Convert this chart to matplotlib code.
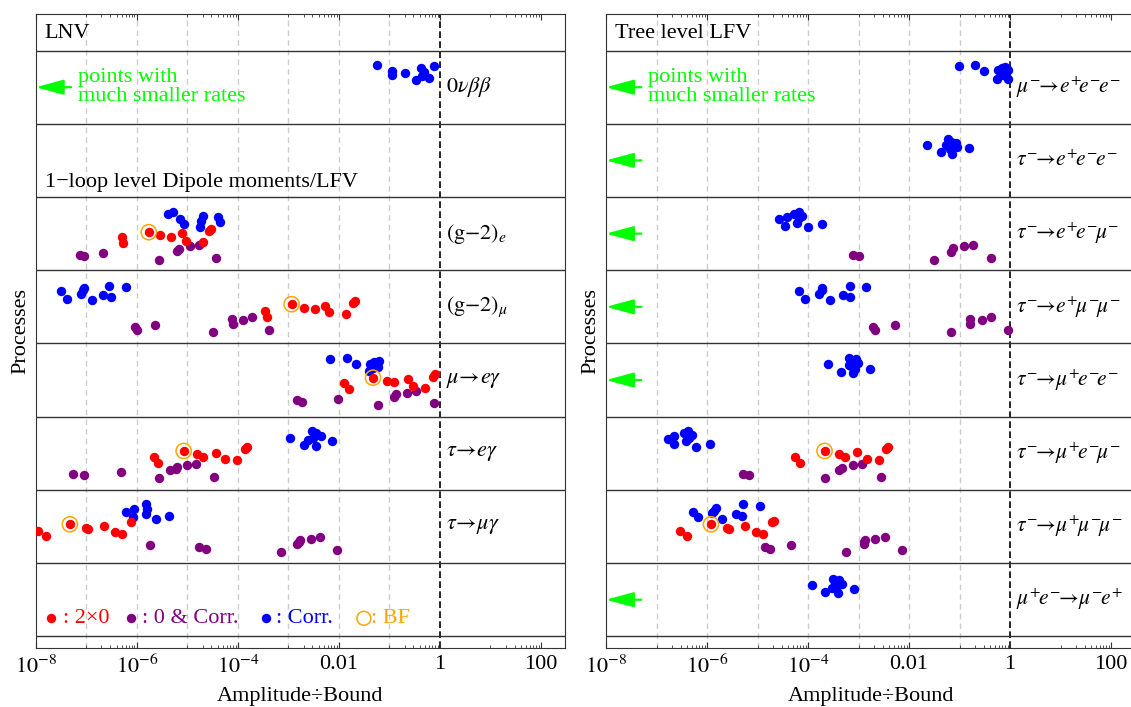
import numpy as np
import matplotlib.pyplot as plt
from matplotlib.ticker import FixedLocator, FixedFormatter, NullFormatter

plt.rcParams['font.family'] = ['Liberation Serif', 'DejaVu Serif']
plt.rcParams['mathtext.fontset'] = 'stix'

RED = '#ff0000'
PURPLE = '#800080'
BLUE = '#0000ff'
ORANGE = '#ffa500'
GREEN = '#00ff00'

# log10(amplitude/bound) and position inside the row (0..1)
# ---- left panel: LNV and 1-loop ----
nbb_blue_x = [-1.25, -0.957, -0.942, -0.698, -0.482, -0.374, -0.317, -0.36, -0.209, -0.115]
nbb_blue_y = [.80, .72, .67, .69, .60, .76, .71, .65, .62, .79]

g2e_blue_x = [-5.388, -5.288, -5.151, -5.065, -4.755, -4.734, -4.691, -4.388, -4.353]
g2e_blue_y = [.765, .796, .701, .629, .597, .674, .742, .729, .656]
g2e_red_x = [-6.295, -6.266, -5.763, -5.532, -5.331, -5.108, -5.029, -4.698, -4.576, -4.532]
g2e_red_y = [.448, .367, .520, .475, .448, .502, .403, .380, .538, .561]
g2e_purple_x = [-7.122, -7.050, -6.669, -5.561, -5.201, -5.165, -4.950, -4.770, -4.432]
g2e_purple_y = [.213, .195, .240, .140, .258, .294, .330, .344, .167]

g2mu_blue_x = [-7.496, -7.388, -7.108, -7.065, -7.036, -6.892, -6.669, -6.547, -6.511, -6.223]
g2mu_blue_y = [.714, .614, .682, .727, .764, .600, .668, .791, .636, .777]
g2mu_red_x = [-3.453, -3.424, -2.935, -2.691, -2.475, -2.273, -2.201, -1.856, -1.727, -1.683]
g2mu_red_y = [.445, .364, .536, .491, .468, .514, .423, .400, .559, .582]
g2mu_purple_x = [-6.036, -5.993, -5.647, -4.496, -4.108, -4.101, -3.899, -3.719, -3.381]
g2mu_purple_y = [.223, .186, .250, .150, .332, .259, .323, .359, .177]

mueg_blue_x = [-2.173, -1.835, -1.655, -1.381, -1.295, -1.201, -1.403, -1.331, -1.223]
mueg_blue_y = [.782, .800, .714, .718, .741, .764, .627, .659, .682]
mueg_red_x = [-1.906, -1.799, -1.324, -1.043, -0.899, -0.633, -0.525, -0.288, -0.144, -0.094]
mueg_red_y = [.455, .373, .532, .486, .468, .514, .423, .395, .545, .577]
mueg_purple_x = [-2.820, -2.734, -2.014, -1.230, -0.899, -0.863, -0.647, -0.468, -0.122]
mueg_purple_y = [.227, .195, .236, .155, .264, .305, .327, .355, .182]

taueg_blue_x = [-2.971, -2.698, -2.540, -2.446, -2.360, -2.518, -2.446, -2.144, -2.604]
taueg_blue_y = [.705, .618, .809, .782, .736, .705, .600, .668, .682]
taueg_red_x = [-5.662, -5.576, -5.072, -4.799, -4.691, -4.424, -4.245, -4.014, -3.849, -3.827]
taueg_red_y = [.445, .373, .532, .491, .455, .509, .423, .409, .559, .591]
taueg_purple_x = [-7.266, -7.043, -6.317, -5.554, -5.345, -5.230, -5.201, -5.007, -4.820, -4.475]
taueg_purple_y = [.214, .200, .241, .164, .273, .291, .309, .336, .350, .173]

taumug_blue_x = [-6.209, -6.058, -6.072, -5.813, -5.791, -5.813, -5.626, -5.353]
taumug_blue_y = [.703, .735, .626, .804, .740, .667, .598, .644]
taumug_red_x = [-7.950, -7.791, -7.324, -7.000, -6.964, -6.647, -6.424, -6.295, -6.115]
taumug_red_y = [.438, .374, .530, .484, .461, .502, .420, .393, .557]
taumug_purple_x = [-5.748, -4.763, -4.633, -3.151, -2.820, -2.791, -2.763, -2.554, -2.374, -2.029]
taumug_purple_y = [.242, .219, .196, .151, .256, .288, .315, .324, .352, .174]

# ---- right panel: tree level LFV ----
mueee_blue_x = [-1.007, -0.702, -0.511, -0.241, -0.170, -0.099, -0.262, -0.135, -0.05, -0.05]
mueee_blue_y = [.785, .804, .717, .735, .758, .781, .616, .667, .607, .735]

taueee_blue_x = [-1.645, -1.376, -1.234, -1.163, -1.071, -1.270, -1.142, -1.057, -0.823, -1.199]
taueee_blue_y = [.714, .614, .795, .750, .736, .705, .582, .682, .664, .659]

taueemu_blue_x = [-4.582, -4.426, -4.454, -4.284, -4.177, -4.121, -4.213, -4.0, -3.730, -4.177]
taueemu_blue_y = [.697, .733, .611, .765, .801, .742, .652, .584, .629, .719]
taueemu_purple_x = [-3.113, -3.0, -1.511, -1.177, -1.128, -0.915, -0.730, -0.383]
taueemu_purple_y = [.213, .195, .140, .253, .303, .326, .344, .167]

tauemumu_blue_x = [-4.177, -4.057, -3.787, -3.730, -3.716, -3.567, -3.312, -3.170, -3.177, -2.858]
tauemumu_blue_y = [.714, .614, .682, .727, .764, .600, .668, .791, .636, .777]
tauemumu_purple_x = [-2.723, -2.674, -2.284, -1.170, -0.794, -0.787, -0.560, -0.383, -0.050]
tauemumu_purple_y = [.223, .186, .250, .150, .332, .259, .323, .359, .177]

taumuee_blue_x = [-3.610, -3.348, -3.184, -3.043, -3.149, -3.021, -3.113, -3.064, -2.780, -3.199]
taumuee_blue_y = [.714, .614, .795, .782, .691, .727, .591, .645, .655, .705]

taumuemu_blue_x = [-6.766, -6.645, -6.660, -6.461, -6.376, -6.305, -6.411, -6.213, -5.943, -6.355]
taumuemu_blue_y = [.700, .741, .623, .773, .805, .750, .668, .591, .632, .705]
taumuemu_red_x = [-4.262, -4.163, -3.674, -3.397, -3.270, -3.028, -2.830, -2.603, -2.454, -2.426]
taumuemu_red_y = [.445, .373, .532, .486, .455, .514, .418, .409, .559, .591]
taumuemu_purple_x = [-5.291, -5.170, -3.674, -3.383, -3.326, -3.106, -2.929, -2.560]
taumuemu_purple_y = [.214, .200, .164, .268, .305, .336, .350, .173]

taumumumu_blue_x = [-6.277, -6.184, -5.894, -5.858, -5.830, -5.702, -5.433, -5.298, -5.291, -4.950]
taumumumu_blue_y = [.703, .635, .680, .717, .749, .598, .667, .644, .804, .781]
taumumumu_red_x = [-6.539, -6.397, -5.922, -5.596, -5.567, -5.248, -5.028, -4.887, -4.709, -4.674]
taumumumu_red_y = [.438, .374, .530, .484, .461, .502, .420, .393, .557, .575]
taumumumu_purple_x = [-4.844, -4.759, -4.333, -3.255, -2.901, -2.887, -2.865, -2.667, -2.475, -2.135]
taumumumu_purple_y = [.219, .196, .242, .151, .256, .288, .315, .324, .352, .174]

muconv_blue_x = [-3.915, -3.660, -3.504, -3.383, -3.326, -3.433, -3.411, -3.518, -3.092, -3.468]
muconv_blue_y = [.705, .605, .786, .764, .718, .682, .591, .664, .650, .741]

BF_INDEX = 2  # best fit point inside each red list

left_labels = [r'$0\nu\beta\beta$', '', r'$\mathrm{(g{-}2)}_{e}$', r'$\mathrm{(g{-}2)}_{\mu}$',
               r'$\mu\!\rightarrow\! e\gamma$', r'$\tau\!\rightarrow\! e\gamma$',
               r'$\tau\!\rightarrow\!\mu\gamma$', '']
right_labels = [r'$\mu^{-}\!\!\rightarrow\! e^{+}\!e^{-}\!e^{-}$', r'$\tau^{-}\!\!\rightarrow\! e^{+}\!e^{-}\!e^{-}$',
                r'$\tau^{-}\!\!\rightarrow\! e^{+}\!e^{-}\!\mu^{-}$', r'$\tau^{-}\!\!\rightarrow\! e^{+}\!\mu^{-}\!\mu^{-}$',
                r'$\tau^{-}\!\!\rightarrow\!\mu^{+}\!e^{-}\!e^{-}$', r'$\tau^{-}\!\!\rightarrow\!\mu^{+}\!e^{-}\!\mu^{-}$',
                r'$\tau^{-}\!\!\rightarrow\!\mu^{+}\!\mu^{-}\!\mu^{-}$', r'$\mu^{+}\!e^{-}\!\!\rightarrow\!\mu^{-}\!e^{+}$']
tick_vals = [1e-8, 1e-6, 1e-4, 1e-2, 1, 100]
tick_text = [r'$10^{-8}$', r'$10^{-6}$', r'$10^{-4}$', '0.01', '1', '100']

FS = 16
MS = 46


def dots(ax, row, xs, ys, color, bf=False):
    x = 10.0 ** np.array(xs)
    y = row + np.array(ys)
    ax.scatter(x, y, s=MS, color=color, lw=0, zorder=3)
    if bf:
        ax.scatter(x[BF_INDEX], y[BF_INDEX], s=120, facecolor='none', edgecolor=ORANGE, lw=1.1, zorder=4)


def arrow(ax, row):
    ax.annotate('', xy=(1e-8, row + 0.5), xytext=(10 ** -7.3, row + 0.5),
                arrowprops=dict(arrowstyle='-|>,head_length=1.7,head_width=0.46', color=GREEN,
                                lw=1.6, shrinkA=0, shrinkB=0, mutation_scale=10), zorder=5)


def setup(ax, labels, lab_fs):
    ax.set_xscale('log')
    ax.set_xlim(1e-8, 300)
    ax.set_ylim(-0.164, 8.5)
    ax.set_yticks([])
    ax.xaxis.set_major_locator(FixedLocator(tick_vals))
    ax.xaxis.set_major_formatter(FixedFormatter(tick_text))
    minor = [m * 10.0 ** e for e in (-7, -5, -3, -1, 1) for m in range(1, 10)]
    ax.xaxis.set_minor_locator(FixedLocator(minor))
    ax.xaxis.set_minor_formatter(NullFormatter())
    ax.tick_params(which='both', direction='in', top=True, labelsize=FS, pad=5, color='#333333')
    ax.tick_params(which='major', length=4)
    ax.tick_params(which='minor', length=2.5)
    for e in range(-7, 0):
        ax.axvline(10.0 ** e, color='#cccccc', ls=(0, (4, 3)), lw=1, zorder=0)
    ax.axvline(1, color='k', ls=(0, (4, 2)), lw=1.2, zorder=1)
    for k in range(9):
        ax.axhline(k, color='#333333', lw=1, zorder=1)
    for i, lab in enumerate(labels):
        ax.text(1.3, 7.5 - i, lab, fontsize=lab_fs, va='center', ha='left')
    ax.set_ylabel('Processes', fontsize=FS, labelpad=4)
    ax.set_xlabel('Amplitude\u00f7Bound', fontsize=FS, labelpad=6)
    for s in ax.spines.values():
        s.set_color('#333333')


fig = plt.figure(figsize=(11.31, 7.07), dpi=100)
axL = fig.add_axes([0.0316, 0.083, 0.468, 0.8972])
axR = fig.add_axes([0.5358, 0.083, 0.468, 0.8972])
setup(axL, left_labels, FS)
setup(axR, right_labels, 15.5)

# left panel
dots(axL, 7, nbb_blue_x, nbb_blue_y, BLUE)
dots(axL, 5, g2e_blue_x, g2e_blue_y, BLUE)
dots(axL, 5, g2e_purple_x, g2e_purple_y, PURPLE)
dots(axL, 5, g2e_red_x, g2e_red_y, RED, bf=True)
dots(axL, 4, g2mu_blue_x, g2mu_blue_y, BLUE)
dots(axL, 4, g2mu_purple_x, g2mu_purple_y, PURPLE)
dots(axL, 4, g2mu_red_x, g2mu_red_y, RED, bf=True)
dots(axL, 3, mueg_blue_x, mueg_blue_y, BLUE)
dots(axL, 3, mueg_purple_x, mueg_purple_y, PURPLE)
dots(axL, 3, mueg_red_x, mueg_red_y, RED, bf=True)
dots(axL, 2, taueg_blue_x, taueg_blue_y, BLUE)
dots(axL, 2, taueg_purple_x, taueg_purple_y, PURPLE)
dots(axL, 2, taueg_red_x, taueg_red_y, RED, bf=True)
dots(axL, 1, taumug_blue_x, taumug_blue_y, BLUE)
dots(axL, 1, taumug_purple_x, taumug_purple_y, PURPLE)
dots(axL, 1, taumug_red_x, taumug_red_y, RED, bf=True)

axL.text(10 ** -7.82, 8.24, 'LNV', fontsize=FS, va='center')
axL.text(10 ** -7.82, 6.2, '1\u2212loop level Dipole moments/LFV', fontsize=FS, va='center')
axL.text(10 ** -7.16, 7.5, 'points with\nmuch smaller rates', color=GREEN, fontsize=FS,
         va='center', linespacing=1.0)
arrow(axL, 7)

# legend row
axL.scatter([10 ** -7.697], [0.246], s=MS, color=RED, lw=0)
axL.text(10 ** -7.47, 0.246, ': 2\u00d70', color=RED, fontsize=FS, va='center')
axL.scatter([10 ** -6.113], [0.246], s=MS, color=PURPLE, lw=0)
axL.text(10 ** -5.90, 0.246, ': 0 & Corr.', color=PURPLE, fontsize=FS, va='center')
axL.scatter([10 ** -3.447], [0.246], s=MS, color=BLUE, lw=0)
axL.text(10 ** -3.25, 0.246, ': Corr.', color=BLUE, fontsize=FS, va='center')
axL.scatter([10 ** -1.505], [0.246], s=100, facecolor='none', edgecolor=ORANGE, lw=1.1)
axL.text(10 ** -1.36, 0.246, ': BF', color=ORANGE, fontsize=FS, va='center')

# right panel
dots(axR, 7, mueee_blue_x, mueee_blue_y, BLUE)
dots(axR, 6, taueee_blue_x, taueee_blue_y, BLUE)
dots(axR, 5, taueemu_blue_x, taueemu_blue_y, BLUE)
dots(axR, 5, taueemu_purple_x, taueemu_purple_y, PURPLE)
dots(axR, 4, tauemumu_blue_x, tauemumu_blue_y, BLUE)
dots(axR, 4, tauemumu_purple_x, tauemumu_purple_y, PURPLE)
dots(axR, 3, taumuee_blue_x, taumuee_blue_y, BLUE)
dots(axR, 2, taumuemu_blue_x, taumuemu_blue_y, BLUE)
dots(axR, 2, taumuemu_purple_x, taumuemu_purple_y, PURPLE)
dots(axR, 2, taumuemu_red_x, taumuemu_red_y, RED, bf=True)
dots(axR, 1, taumumumu_blue_x, taumumumu_blue_y, BLUE)
dots(axR, 1, taumumumu_purple_x, taumumumu_purple_y, PURPLE)
dots(axR, 1, taumumumu_red_x, taumumumu_red_y, RED, bf=True)
dots(axR, 0, muconv_blue_x, muconv_blue_y, BLUE)

axR.text(10 ** -7.82, 8.24, 'Tree level LFV', fontsize=FS, va='center')
axR.text(10 ** -7.16, 7.5, 'points with\nmuch smaller rates', color=GREEN, fontsize=FS,
         va='center', linespacing=1.0)
for r in (7, 6, 5, 4, 3, 0):
    arrow(axR, r)

fig.savefig('out.png', dpi=100)
